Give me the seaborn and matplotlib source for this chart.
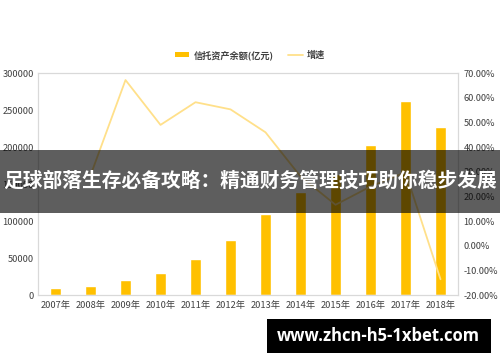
import numpy as np
import pandas as pd
import matplotlib
matplotlib.use("Agg")
import matplotlib.pyplot as plt
import seaborn as sns
from matplotlib.patches import Rectangle, Patch
from matplotlib.lines import Line2D
from matplotlib.ticker import FuncFormatter, MultipleLocator

# ---- data ----
years = ["2007年", "2008年", "2009年", "2010年", "2011年", "2012年",
         "2013年", "2014年", "2015年", "2016年", "2017年", "2018年"]
balance = [9491, 12200, 20400, 30400, 48100, 74700,
           109100, 139800, 163000, 202200, 262500, 226800]
growth_years = ["2008年", "2009年", "2010年", "2011年", "2012年",
                "2013年", "2014年", "2015年", "2016年", "2017年", "2018年"]
growth = [28.5, 67.2, 49.0, 58.2, 55.3, 46.0, 28.1, 16.6, 24.0, 29.8, -13.6]
legend_labels = ["信托资产余额(亿元)", "增速"]
title_text = "足球部落生存必备攻略：精通财务管理技巧助你稳步发展"
watermark = "www.zhcn-h5-1xbet.com"

sns.set_theme(style="white")
plt.rcParams['font.family'] = ['Noto Sans CJK SC', 'DejaVu Sans']

bar_color = "#FFC000"
line_color = "#FFE08A"
tick_color = "#404040"
spine_color = "#D9D9D9"

fig = plt.figure(figsize=(5.0, 3.62), dpi=100)
ax = fig.add_axes([0.076, 0.185, 0.84, 0.613])

df = pd.DataFrame({"year": years, "balance": balance})
sns.barplot(data=df, x="year", y="balance", color=bar_color, saturation=1,
            width=0.32, ax=ax)
ax.set_ylim(0, 300000)
ax.yaxis.set_major_locator(MultipleLocator(50000))
ax.set_xlim(-0.5, len(years) - 0.5)
ax.set_xlabel("")
ax.set_ylabel("")
ax.tick_params(axis="both", length=0, colors=tick_color, labelsize=6.7, pad=3)
ax.tick_params(axis="x", labelsize=6.7, pad=4)
for s in ax.spines.values():
    s.set_color(spine_color)
    s.set_linewidth(0.8)

ax2 = ax.twinx()
pos = {y: i for i, y in enumerate(years)}
gdf = pd.DataFrame({"x": [pos[y] for y in growth_years], "growth": growth})
sns.lineplot(data=gdf, x="x", y="growth", color=line_color, linewidth=1.3,
             ax=ax2, sort=False)
ax2.set_ylim(-20, 70)
ax2.yaxis.set_major_locator(MultipleLocator(10))
ax2.yaxis.set_major_formatter(FuncFormatter(lambda v, p: f"{v:.2f}%"))
ax2.set_ylabel("")
ax2.set_xlabel("")
ax2.tick_params(axis="y", length=0, colors=tick_color, labelsize=6.6, pad=4)
for s in ax2.spines.values():
    s.set_color(spine_color)
    s.set_linewidth(0.8)
ax2.set_xlim(-0.5, len(years) - 0.5)

handles = [Patch(facecolor=bar_color, edgecolor="none"),
           Line2D([0], [0], color=line_color, linewidth=1.3)]
fig.legend(handles, legend_labels, loc="center", bbox_to_anchor=(0.5, 0.848),
           ncol=2, frameon=False, handlelength=1.6,
           handleheight=0.35, columnspacing=1.6, handletextpad=0.45,
           labelcolor=tick_color, prop={"weight": "bold", "size": 6.6})

# overlay banner
fig.patches.append(Rectangle((0, (362 - 213) / 362), 1, 63 / 362,
                             transform=fig.transFigure, facecolor="black",
                             alpha=0.63, edgecolor="none", zorder=10))
fig.text(0.5, (362 - 181) / 362, title_text, ha="center", va="center",
         color="white", fontsize=14.2, fontweight="bold", zorder=11)

# watermark box
fig.patches.append(Rectangle((267 / 500, (362 - 353) / 362), 224 / 500, 34 / 362,
                             transform=fig.transFigure, facecolor="black",
                             edgecolor="none", zorder=10))
fig.text(378 / 500, (362 - 336) / 362, watermark, ha="center", va="center",
         color="white", fontsize=12, fontweight="bold", zorder=11,
         family=["Open Sans", "DejaVu Sans"])

fig.savefig("out.png", dpi=100)
